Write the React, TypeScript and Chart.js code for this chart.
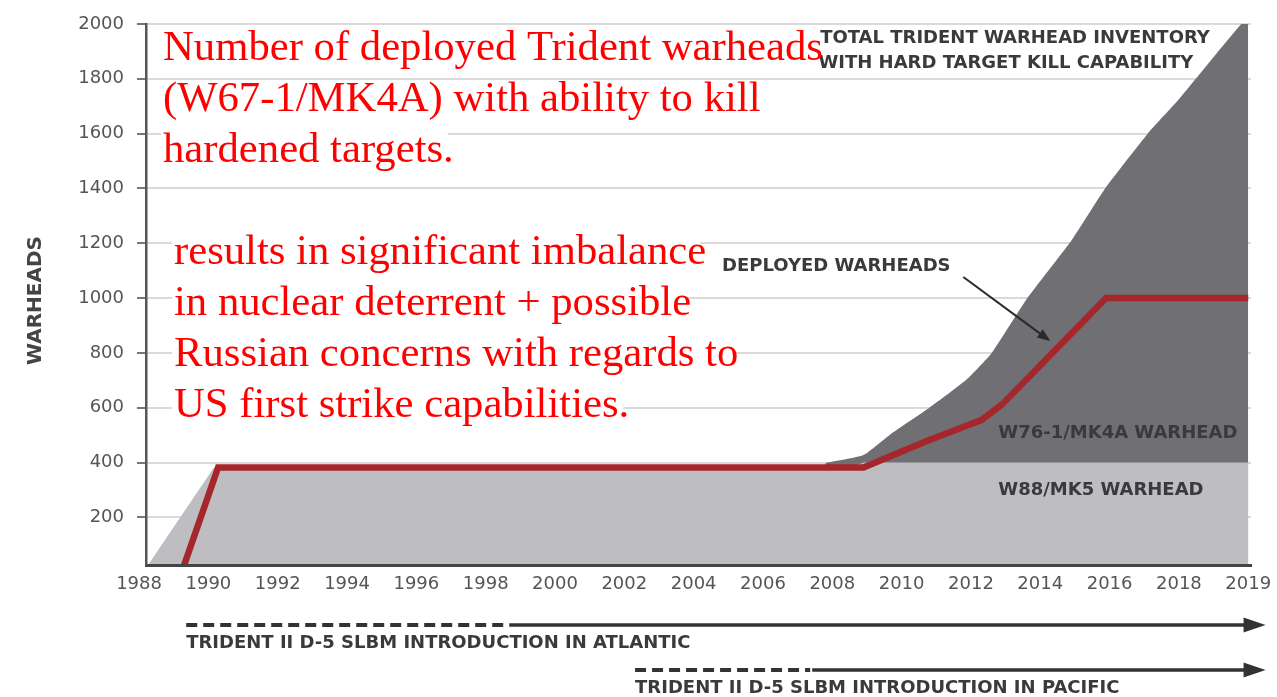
import React, { useEffect, useRef } from 'react';
import { Chart, registerables } from 'chart.js';

Chart.register(...registerables);

// ---- Data ----
const tickLabels = ['1988', '1990', '1992', '1994', '1996', '1998', '2000', '2002', '2004', '2006', '2008', '2010', '2012', '2014', '2016', '2018', '2019'];
const yTickValues = [200, 400, 600, 800, 1000, 1200, 1400, 1600, 1800, 2000];

// W88/MK5 (light grey area)
const w88Years = [1988.12, 1990.15, 2008.5, 2008.9, 2019];
const w88Values = [0, 380, 380, 400, 400];

// Total inventory with hard target kill capability (dark grey area)
const totalYears = [2007.8, 2008.9, 2009.7, 2010.8, 2011.85, 2012.6, 2013.6, 2014.9, 2015.9, 2017.1, 2018.0, 2018.9, 2019];
const totalValues = [398, 427, 505, 600, 700, 800, 995, 1210, 1405, 1600, 1725, 2000, 2000];

// Deployed warheads (red line)
const deployedYears = [1989.23, 1990.28, 2008.9, 2010.8, 2012.3, 2012.9, 2015.9, 2019];
const deployedValues = [0, 382, 382, 482, 555, 612, 1000, 1000];

// Introduction timelines: [dashed start, solid start, arrow tip]
const atlanticYears = [1989.36, 1998.68, 2019.25];
const pacificYears = [2002.31, 2007.42, 2019.25];
const atlanticLabel = 'TRIDENT II D-5 SLBM INTRODUCTION IN ATLANTIC';
const pacificLabel = 'TRIDENT II D-5 SLBM INTRODUCTION IN PACIFIC';

// Grey chart labels: text, left year, value (vertical centre)
const greyLabelTexts = ['TOTAL TRIDENT WARHEAD INVENTORY', 'WITH HARD TARGET KILL CAPABILITY', 'DEPLOYED WARHEADS', 'W76-1/MK4A WARHEAD', 'W88/MK5 WARHEAD'];
const greyLabelYears = [2007.65, 2007.6, 2004.82, 2012.79, 2012.79];
const greyLabelValues = [1949, 1858, 1117, 508, 300];

// Pointer arrow from "DEPLOYED WARHEADS" label: [year, value] start, end
const pointerYears = [2011.78, 2014.29];
const pointerValues = [1077, 843];

// Red overlay annotation text
const noteBlock1 = ['Number of deployed Trident warheads', '(W67-1/MK4A) with ability to kill', 'hardened targets.'];
const noteBlock2 = ['results in significant imbalance', 'in nuclear deterrent + possible', 'Russian concerns with regards to', 'US first strike capabilities.'];

const toSlot = (year: number) => (year <= 2018 ? (year - 1988) / 2 : 15 + (year - 2018));
const toPoints = (years: number[], values: number[]) => years.map((yr, i) => ({ x: toSlot(yr), y: values[i] }));

const TICK_FONT = { family: 'DejaVu Sans', size: 18 };
const LABEL_FONT = 'bold 18px "DejaVu Sans"';
const NOTE_FONT = '42.7px "Liberation Serif"';

const annotationPlugin = {
  id: 'annotations',
  afterDraw(chart: any) {
    const { ctx, chartArea } = chart;
    const xs = chart.scales.x;
    const ys = chart.scales.y;
    const px = (yr: number) => xs.getPixelForValue(toSlot(yr));
    const py = (v: number) => ys.getPixelForValue(v);

    ctx.save();

    // Y axis title
    ctx.save();
    ctx.translate(36, (chartArea.top + chartArea.bottom) / 2 + 6);
    ctx.rotate(-Math.PI / 2);
    ctx.font = 'bold 20px "DejaVu Sans"';
    ctx.fillStyle = '#444';
    ctx.textAlign = 'center';
    ctx.textBaseline = 'middle';
    ctx.fillText('WARHEADS', 0, 0);
    ctx.restore();

    // White backing of red notes (drawn first)
    const blocks = [
      { lines: noteBlock1, x: 163, base: 60 },
      { lines: noteBlock2, x: 174, base: 264 },
    ];
    ctx.font = NOTE_FONT;
    ctx.fillStyle = '#ffffff';
    blocks.forEach((bl) => {
      bl.lines.forEach((t, i) => {
        const b = bl.base + i * 51;
        const w = ctx.measureText(t).width;
        ctx.fillRect(bl.x - 2, b - 31, w - 4, 41);
      });
    });

    // Grey labels
    ctx.font = LABEL_FONT;
    ctx.fillStyle = '#3a3a3a';
    ctx.textAlign = 'left';
    ctx.textBaseline = 'middle';
    greyLabelTexts.forEach((t, i) => {
      ctx.fillText(t, px(greyLabelYears[i]), py(greyLabelValues[i]));
    });

    // Pointer arrow
    const ax0 = px(pointerYears[0]);
    const ay0 = py(pointerValues[0]);
    const ax1 = px(pointerYears[1]);
    const ay1 = py(pointerValues[1]);
    const ang = Math.atan2(ay1 - ay0, ax1 - ax0);
    ctx.strokeStyle = '#2a2a2a';
    ctx.fillStyle = '#2a2a2a';
    ctx.lineWidth = 2;
    ctx.beginPath();
    ctx.moveTo(ax0, ay0);
    ctx.lineTo(ax1 - 8 * Math.cos(ang), ay1 - 8 * Math.sin(ang));
    ctx.stroke();
    ctx.beginPath();
    ctx.moveTo(ax1, ay1);
    ctx.lineTo(ax1 - 13 * Math.cos(ang) + 5 * Math.sin(ang), ay1 - 13 * Math.sin(ang) - 5 * Math.cos(ang));
    ctx.lineTo(ax1 - 13 * Math.cos(ang) - 5 * Math.sin(ang), ay1 - 13 * Math.sin(ang) + 5 * Math.cos(ang));
    ctx.closePath();
    ctx.fill();

    // Timelines
    const drawTimeline = (years: number[], lineY: number, label: string) => {
      const xd = px(years[0]);
      const xsld = px(years[1]);
      const xt = px(years[2]);
      ctx.strokeStyle = '#333';
      ctx.fillStyle = '#333';
      ctx.lineWidth = 4;
      ctx.setLineDash([11, 6]);
      ctx.beginPath();
      ctx.moveTo(xd, lineY);
      ctx.lineTo(xsld - 2, lineY);
      ctx.stroke();
      ctx.setLineDash([]);
      ctx.lineWidth = 3.5;
      ctx.beginPath();
      ctx.moveTo(xsld, lineY);
      ctx.lineTo(xt - 18, lineY);
      ctx.stroke();
      ctx.beginPath();
      ctx.moveTo(xt, lineY);
      ctx.lineTo(xt - 22, lineY - 7.5);
      ctx.lineTo(xt - 22, lineY + 7.5);
      ctx.closePath();
      ctx.fill();
      ctx.font = LABEL_FONT;
      ctx.fillStyle = '#3a3a3a';
      ctx.textAlign = 'left';
      ctx.textBaseline = 'middle';
      ctx.fillText(label, xd, lineY + 18);
    };
    drawTimeline(atlanticYears, chartArea.bottom + 60, atlanticLabel);
    drawTimeline(pacificYears, chartArea.bottom + 105, pacificLabel);

    // Red notes text
    ctx.font = NOTE_FONT;
    ctx.textAlign = 'left';
    ctx.textBaseline = 'alphabetic';
    ctx.fillStyle = '#ff0000';
    blocks.forEach((bl) => {
      bl.lines.forEach((t, i) => {
        ctx.fillText(t, bl.x, bl.base + i * 51);
      });
    });

    ctx.restore();
  },
};

export default function App() {
  const canvasRef = useRef<HTMLCanvasElement | null>(null);

  useEffect(() => {
    if (!canvasRef.current) return;
    const chart = new Chart(canvasRef.current, {
      type: 'line',
      data: {
        datasets: [
          {
            label: 'Deployed warheads',
            data: toPoints(deployedYears, deployedValues),
            borderColor: '#a5262b',
            borderWidth: 6.5,
            pointRadius: 0,
            fill: false,
            tension: 0,
            borderJoinStyle: 'miter',
          },
          {
            label: 'W88/MK5 warhead',
            data: toPoints(w88Years, w88Values),
            borderWidth: 0,
            borderColor: 'rgba(0,0,0,0)',
            backgroundColor: '#bdbdc2',
            pointRadius: 0,
            fill: 'origin',
            tension: 0,
          },
          {
            label: 'Total inventory (W76-1/MK4A)',
            data: toPoints(totalYears, totalValues),
            borderWidth: 0,
            borderColor: 'rgba(0,0,0,0)',
            backgroundColor: '#6f6f74',
            pointRadius: 0,
            fill: 'origin',
            tension: 0.15,
          },
        ],
      },
      options: {
        responsive: false,
        animation: false,
        layout: { padding: { left: 0, top: 24, right: 26, bottom: 0 } },
        plugins: {
          legend: { display: false },
          tooltip: { enabled: false },
        },
        scales: {
          x: {
            type: 'linear',
            min: 0.1,
            max: 16.04,
            afterBuildTicks: (s: any) => {
              s.ticks = tickLabels.map((_, i) => ({ value: i }));
            },
            afterFit: (s: any) => {
              s.height = 132;
              s.paddingLeft = 0;
              s.paddingRight = 0;
            },
            ticks: {
              callback: (v: any) => tickLabels[Math.round(Number(v))],
              autoSkip: false,
              maxRotation: 0,
              minRotation: 0,
              padding: 9,
              font: TICK_FONT,
              color: '#555',
            },
            grid: { display: false, drawTicks: false },
            border: { display: true, color: '#444', width: 3, z: 1 },
          },
          y: {
            type: 'linear',
            min: 26,
            max: 2000,
            afterBuildTicks: (s: any) => {
              s.ticks = yTickValues.map((v) => ({ value: v }));
            },
            afterFit: (s: any) => {
              s.width = 146;
              s.paddingTop = 0;
              s.paddingBottom = 0;
            },
            ticks: {
              callback: (v: any) => String(v),
              padding: 13,
              font: TICK_FONT,
              color: '#555',
            },
            grid: { color: '#dadada', lineWidth: 2, tickColor: '#777', tickLength: 9, drawTicks: true },
            border: { display: true, color: '#555', width: 2.5, z: 1 },
          },
        },
      },
      plugins: [annotationPlugin],
    } as any);
    return () => chart.destroy();
  }, []);

  return (
    <div style={{ position: 'fixed', left: 0, top: 0, width: 1277, height: 697, background: '#fff' }}>
      <canvas ref={canvasRef} width={1277} height={697} style={{ display: 'block' }} />
    </div>
  );
}
